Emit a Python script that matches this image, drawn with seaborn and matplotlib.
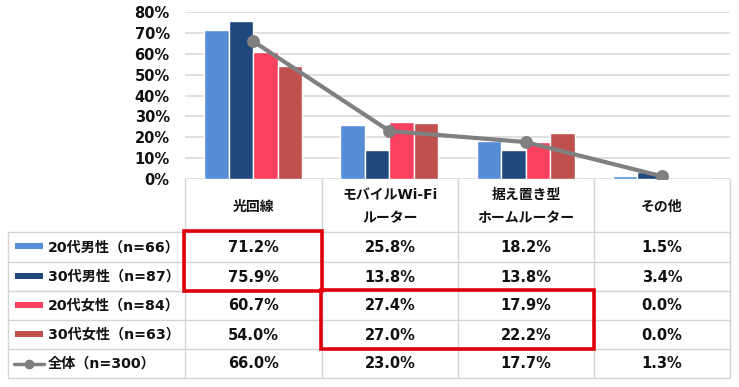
import numpy as np
import pandas as pd
import matplotlib
matplotlib.use("Agg")
import matplotlib.pyplot as plt
from matplotlib.patches import Rectangle
import seaborn as sns

# ---------------- data ----------------
categories = ["光回線", "モバイルWi-Fi\nルーター", "据え置き型\nホームルーター", "その他"]
series = ["20代男性（n=66）", "30代男性（n=87）", "20代女性（n=84）", "30代女性（n=63）"]
male20 = [71.2, 25.8, 18.2, 1.5]
male30 = [75.9, 13.8, 13.8, 3.4]
female20 = [60.7, 27.4, 17.9, 0.0]
female30 = [54.0, 27.0, 22.2, 0.0]
total_label = "全体（n=300）"
total = [66.0, 23.0, 17.7, 1.3]
yticks = [0, 10, 20, 30, 40, 50, 60, 70, 80]

colors = ["#558ED5", "#1F497D", "#F9405E", "#C0504D"]
line_color = "#808080"
red = "#E0000B"
grid_c = "#D9D9D9"

sns.set_theme(style="white")
plt.rcParams["font.family"] = ["DejaVu Sans", "Noto Sans CJK JP"]
plt.rcParams["font.weight"] = "bold"

W, H = 739, 387
fig = plt.figure(figsize=(W / 100, H / 100), dpi=100)

# layout in pixels
x_left, x_right = 185, 730
y_top, y_zero = 12, 179

ax = fig.add_axes([x_left / W, 1 - y_zero / H, (x_right - x_left) / W, (y_zero - y_top) / H])

series_vals = [male20, male30, female20, female30]
df = pd.DataFrame({
    "cat": categories * len(series),
    "series": np.repeat(series, len(categories)),
    "val": np.concatenate(series_vals),
})
sns.barplot(data=df, x="cat", y="val", hue="series", order=categories, hue_order=series,
            palette=colors, saturation=1, width=0.72, edgecolor="white", linewidth=1.0,
            legend=False, ax=ax, zorder=2)

tdf = pd.DataFrame({"cat": categories, "val": total})
sns.pointplot(data=tdf, x="cat", y="val", order=categories, color=line_color,
              markers="o", markersize=7, linewidth=3, errorbar=None, ax=ax, zorder=4)

ax.set_ylim(0, 80)
ax.set_xlim(-0.5, len(categories) - 0.5)
ax.set_yticks(yticks)
ax.set_yticklabels([f"{v}%" for v in yticks], fontsize=10.5, fontweight="bold")
ax.tick_params(axis="y", length=0, pad=11, colors="#111111")
ax.set_xticks([])
ax.set_xlabel("")
ax.set_ylabel("")
for s in ax.spines.values():
    s.set_visible(False)
ax.yaxis.grid(True, color=grid_c, linewidth=1.2, zorder=0)
ax.set_axisbelow(True)

# ---------------- table ----------------
tax = fig.add_axes([0, 0, 1, 1])
tax.set_xlim(0, W)
tax.set_ylim(H, 0)
tax.axis("off")

col_x = [185, 322, 458, 594, 730]
tab_left = 8
head_top = 179
row_y = [232, 262, 291, 320, 349, 378]
bc = "#D4D4D4"
lw = 1.0

for y in row_y:
    tax.plot([tab_left, col_x[-1]], [y, y], color=bc, lw=lw)
for x in col_x:
    tax.plot([x, x], [head_top, row_y[-1]], color=bc, lw=lw)
tax.plot([tab_left, tab_left], [row_y[0], row_y[-1]], color=bc, lw=lw)

fs = 10.5
# header
for i, c in enumerate(categories):
    cx = (col_x[i] + col_x[i + 1]) / 2
    cy = (head_top + row_y[0]) / 2 + 1
    tax.text(cx, cy, c, ha="center", va="center", fontsize=10, fontweight="bold",
             linespacing=1.85, color="#111111")

all_rows = series_vals + [total]
all_labels = series + [total_label]
for r, (lab, vals) in enumerate(zip(all_labels, all_rows)):
    cy = (row_y[r] + row_y[r + 1]) / 2
    if r < len(series):
        tax.add_patch(Rectangle((15, cy - 4), 28, 6, color=colors[r], lw=0))
    else:
        tax.plot([14, 44], [cy, cy], color=line_color, lw=2.5)
        tax.plot([29], [cy], marker="o", color=line_color, ms=6)
    tax.text(48, cy + 0.5, lab, ha="left", va="center", fontsize=10.2, fontweight="bold",
             color="#111111")
    for i, v in enumerate(vals):
        cx = (col_x[i] + col_x[i + 1]) / 2
        tax.text(cx, cy + 0.5, f"{v:.1f}%", ha="center", va="center", fontsize=fs,
                 fontweight="bold", color="#111111")

# highlight boxes (column range, row range)
boxes = [((0, 0), (0, 1)), ((1, 2), (2, 3))]
for (c0, c1), (r0, r1) in boxes:
    x0, x1 = col_x[c0] - 1, col_x[c1 + 1]
    y0, y1 = row_y[r0] - 1, row_y[r1 + 1]
    tax.add_patch(Rectangle((x0, y0), x1 - x0, y1 - y0, fill=False, edgecolor=red,
                            lw=2.6, zorder=5))

fig.savefig("out.png", dpi=100)
